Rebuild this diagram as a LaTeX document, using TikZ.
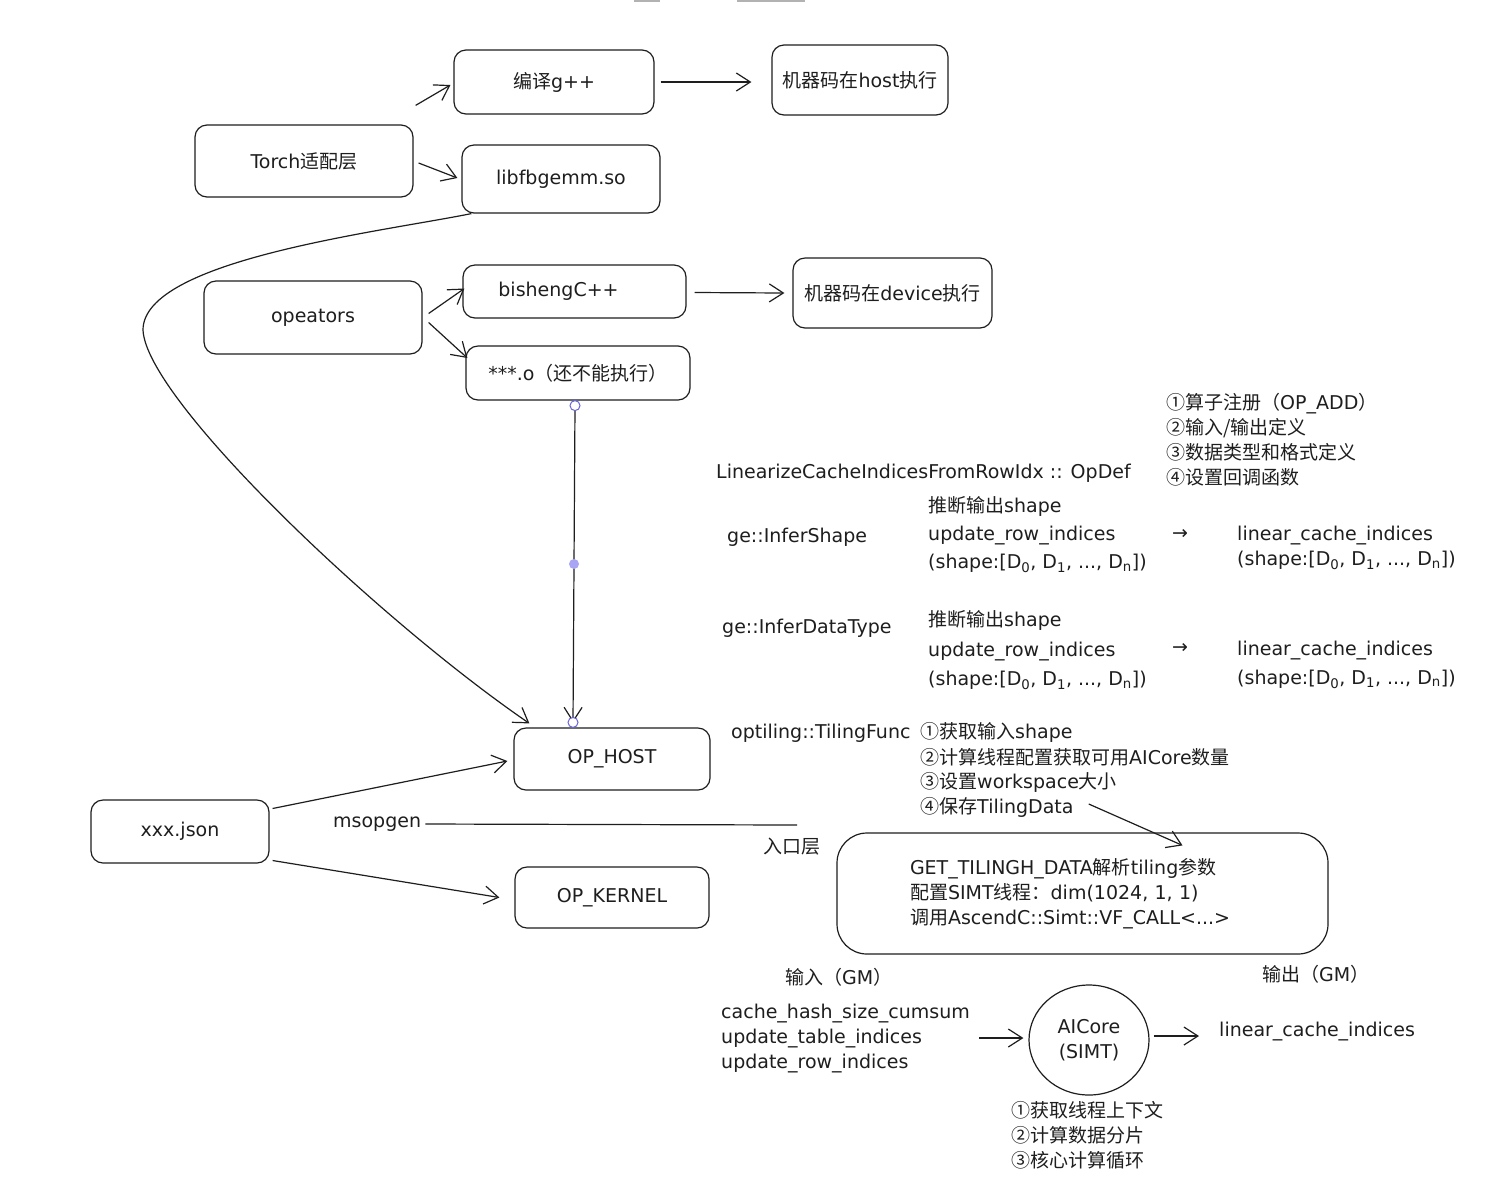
\documentclass[tikz,border=0pt]{standalone}
\usepackage{fontspec}
\setmainfont{DejaVu Sans}
\newfontfamily\zhfont{Noto Sans CJK SC}
\newcommand\zh[1]{{\zhfont #1}}
\usetikzlibrary{arrows.meta,shapes.geometric,calc}
\definecolor{ink}{HTML}{1E1E1E}
\definecolor{handle}{HTML}{6965DB}
\definecolor{handlefill}{HTML}{A8A5F5}
\begin{document}
\begin{tikzpicture}[x=1pt,y=-1pt,
  every node/.style={text=ink, font=\fontsize{19}{25}\selectfont},
  box/.style={draw=ink, line width=1.2pt, rounded corners=12pt, inner sep=0pt},
  txt/.style={anchor=west, inner sep=0pt, align=left},
  arr/.style={draw=ink, line width=1.2pt, -{Straight Barb[length=14pt,width=18pt]}},
  plainline/.style={draw=ink, line width=1.2pt}]
\useasboundingbox (0,0) rectangle (1503,1187);
\fill[white] (0,0) rectangle (1503,1187);
\fill[gray!60] (634,0) rectangle (660,1.5);
\fill[gray!60] (737,0) rectangle (805,1.5);

% boxes
\node[box, minimum width=200pt, minimum height=64pt] (gpp) at (554,82) {\zh{编译}g++};
\node[box, minimum width=176pt, minimum height=70pt] (host) at (860,80) {\zh{机器码在}host\zh{执行}};
\node[box, minimum width=218pt, minimum height=72pt] (torch) at (304,161) {Torch\zh{适配层}};
\node[box, minimum width=198pt, minimum height=68pt] (lib) at (561,179) {libfbgemm.so};
\node[box, minimum width=218pt, minimum height=73pt] (ops) at (313,317.5) {opeators};
\node[box, minimum width=223pt, minimum height=53pt] (bisheng) at (574.5,291.5) {bishengC++\hspace*{32pt}};
\node[box, minimum width=199pt, minimum height=70pt] (device) at (892.5,293) {\zh{机器码在}device\zh{执行}};
\node[box, minimum width=224pt, minimum height=54pt] (obj) at (578,373) {***.o\zh{（还不能执行）}};
\node[box, minimum width=196pt, minimum height=62pt] (ophost) at (612,759) {OP\_HOST};
\node[box, minimum width=178pt, minimum height=63pt] (json) at (180,831.5) {xxx.json};
\node[box, minimum width=194pt, minimum height=61pt] (opk) at (612,897.5) {OP\_KERNEL};
\node[box, rounded corners=30pt, minimum width=491pt, minimum height=121pt, text width=345pt, align=left] (big) at (1082.5,893.5)
  {GET\_TILINGH\_DATA\zh{解析}tiling\zh{参数}\\ \zh{配置}SIMT\zh{线程：}dim(1024, 1, 1)\\ \zh{调用}AscendC::Simt::VF\_CALL<...>};
\node[draw=ink, line width=1.2pt, ellipse, minimum width=120pt, minimum height=110pt, inner sep=0pt, align=center] (circ) at (1089,1040) {AICore\\(SIMT)};

% free texts
\node[txt] (msop) at (333,824) {msopgen};
\coordinate (msopend) at (797,825);
\node[txt] (entry) at (763,847) {\zh{入口层}};
\node[txt] (opdef) at (716,473) {LinearizeCacheIndicesFromRowIdx :: OpDef};
\node[txt] (reg) at (1166,439.5) {\zh{①算子注册（}OP\_ADD\zh{）}\\ \zh{②输入/输出定义}\\ \zh{③数据类型和格式定义}\\ \zh{④设置回调函数}};
\node[txt] (ishape) at (727,537) {ge::InferShape};
\node[txt, font=\fontsize{19}{28}\selectfont] (in1) at (928,535) {\zh{推断输出}shape\\ update\_row\_indices\\ (shape:[D\textsubscript{0}, D\textsubscript{1}, ..., D\textsubscript{n}])};
\node[txt] (ar1) at (1172,534) {→};
\node[txt, font=\fontsize{19}{25}\selectfont] (out1) at (1237,548) {linear\_cache\_indices\\ (shape:[D\textsubscript{0}, D\textsubscript{1}, ..., D\textsubscript{n}])};
\node[txt] (idtype) at (722,628) {ge::InferDataType};
\node[txt, font=\fontsize{19}{29.5}\selectfont] (in2) at (928,650.5) {\zh{推断输出}shape\\ update\_row\_indices\\ (shape:[D\textsubscript{0}, D\textsubscript{1}, ..., D\textsubscript{n}])};
\node[txt] (ar2) at (1172,648) {→};
\node[txt, font=\fontsize{19}{29}\selectfont] (out2) at (1237,664.5) {linear\_cache\_indices\\ (shape:[D\textsubscript{0}, D\textsubscript{1}, ..., D\textsubscript{n}])};
\node[txt] (tfunc) at (731,733) {optiling::TilingFunc};
\node[txt] (t1) at (920,732) {\zh{①获取输入}shape};
\node[txt] (t2) at (920,757) {\zh{②计算线程配置获取可用}AICore\zh{数量}};
\node[txt] (t3) at (920,782) {\zh{③设置}workspace\zh{大小}};
\node[txt] (t4) at (920,807) {\zh{④保存}TilingData};
\node[txt] (gmin) at (785,977) {\zh{输入（}GM\zh{）}};
\node[txt] (gmout) at (1262,974) {\zh{输出（}GM\zh{）}};
\node[txt] (inputs) at (721,1039) {cache\_hash\_size\_cumsum\\ update\_table\_indices\\ update\_row\_indices};
\node[txt] (lout) at (1219,1032) {linear\_cache\_indices};
\node[txt] (steps) at (1011,1135) {\zh{①获取线程上下文}\\ \zh{②计算数据分片}\\ \zh{③核心计算循环}};

% connectors
\draw[arr] ($(torch.north east)+(2,-19)$) -- ($(gpp.west)+(-3,3)$);
\draw[arr] ($(gpp.east)+(6,0)$) -- ($(host.west)+(-20,2)$);
\draw[arr] ($(torch.east)+(5,2)$) -- ($(lib.west)+(-4,-1)$);
\draw[arr] ($(lib.south west)+(10,0)$) .. controls (380,232) and (143,260) .. (143,330)
   .. controls (146,400) and (380,621) .. ($(ophost.north west)+(16,-4)$);
\draw[arr] ($(ops.east)+(6,-4)$) -- ($(bisheng.west)+(2,-3)$);
\draw[arr] ($(ops.east)+(6,5)$) -- ($(obj.west)+(2,-15)$);
\draw[arr] ($(bisheng.east)+(8,1)$) -- ($(device.west)+(-8,0)$);
\draw[arr] ($(obj.south)+(-3,5)$) -- ($(ophost.north)+(-39,-5)$);
\draw[arr] ($(json.east)+(3,-23)$) -- ($(ophost.west)+(-6,2)$);
\draw[arr] ($(json.east)+(3,29)$) -- ($(opk.west)+(-15,0)$);
\draw[plainline] ($(msop.east)+(4,0)$) -- (msopend);
\draw[arr] ($(t4.east)+(15,-3)$) -- ($(big.north)+(100,13)$);
\draw[arr] ($(inputs.east)+(9,-1)$) -- ($(circ.west)+(-5,-2)$);
\draw[arr] ($(circ.east)+(4,-4)$) -- ($(lout.west)+(-20,4)$);

% selection handles
\draw[handle, line width=1pt, fill=white] ($(obj.south)+(-3,5)$) circle (5);
\fill[handlefill] (574,564) circle (5);
\draw[handle, line width=1pt, fill=white] ($(ophost.north)+(-39,-5)$) circle (5);
\end{tikzpicture}
\end{document}
